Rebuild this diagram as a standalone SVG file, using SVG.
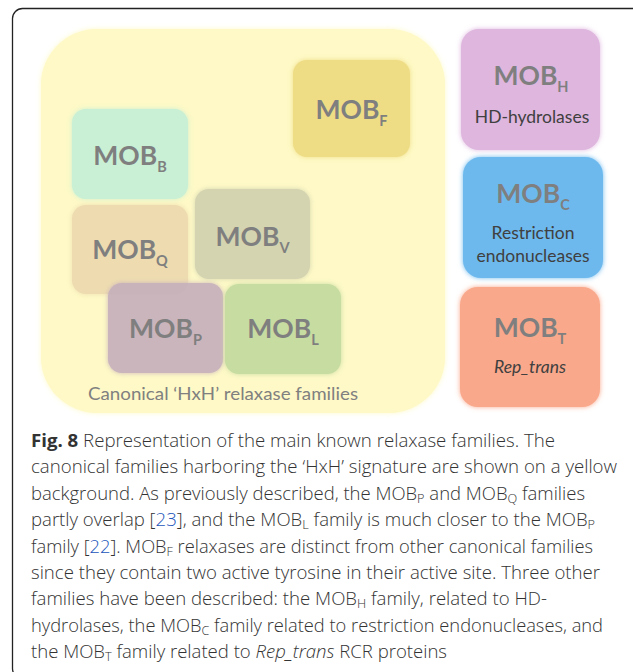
<svg xmlns="http://www.w3.org/2000/svg" width="633" height="672" viewBox="0 0 633 672">
<defs>
<style>
.box{stroke:none}
.mob{font-family:Lato,"Open Sans",sans-serif;font-weight:bold;font-size:26.5px;fill:#7f7f7f;text-anchor:middle}
.sub{font-size:14.5px}
.desc{font-family:Lato,"Open Sans",sans-serif;font-size:17.5px;fill:#404040;text-anchor:middle}
.cap{font-family:"Open Sans","Noto Sans",sans-serif;font-size:17.5px;font-weight:300;fill:#333333}
.cs{font-size:12px}
.ref{fill:#2255bb}
</style>
<filter id="glow" x="-10%" y="-10%" width="120%" height="120%">
<feGaussianBlur in="SourceGraphic" stdDeviation="2.5" result="b"/>
<feMerge><feMergeNode in="b"/><feMergeNode in="SourceGraphic"/></feMerge>
</filter>
</defs>
<rect x="12.5" y="8.5" width="630" height="670" rx="10" fill="#ffffff" stroke="#222" stroke-width="1.3"/>

<g id="canonical">
<rect x="41" y="29" width="404" height="384" rx="56" fill="#fef9c6" filter="url(#glow)"/>
<text x="223" y="400" font-family="Lato,'Open Sans',sans-serif" font-size="18" fill="#808080" text-anchor="middle" textLength="270" lengthAdjust="spacingAndGlyphs">Canonical ‘HxH’ relaxase families</text>
</g>

<g id="mobF">
<rect class="box" x="293" y="60" width="117" height="97" rx="14" fill="#efdd86" filter="url(#glow)"/>
<text class="mob" x="351.5" y="119">MOB<tspan class="sub" dy="7">F</tspan></text>
</g>
<g id="mobB">
<rect class="box" x="72" y="109" width="116" height="90" rx="14" fill="#c9f0d4" filter="url(#glow)"/>
<text class="mob" x="130" y="165">MOB<tspan class="sub" dy="7">B</tspan></text>
</g>
<g id="mobQ">
<rect class="box" x="72" y="205" width="116" height="89" rx="14" fill="#eedcb0" filter="url(#glow)"/>
<text class="mob" x="130" y="259">MOB<tspan class="sub" dy="7">Q</tspan></text>
</g>
<g id="mobV">
<rect class="box" x="195" y="189" width="115" height="90" rx="14" fill="#d4d4b1" filter="url(#glow)"/>
<text class="mob" x="252.5" y="246">MOB<tspan class="sub" dy="7">V</tspan></text>
</g>
<g id="mobP">
<rect class="box" x="108" y="283" width="115" height="90" rx="14" fill="#c6b0bc" opacity="0.92" filter="url(#glow)"/>
<text class="mob" x="165.5" y="338">MOB<tspan class="sub" dy="7">P</tspan></text>
</g>
<g id="mobL">
<rect class="box" x="225" y="284" width="116" height="90" rx="14" fill="#c7dca1" filter="url(#glow)"/>
<text class="mob" x="283" y="338">MOB<tspan class="sub" dy="7">L</tspan></text>
</g>

<g id="mobH">
<rect class="box" x="461" y="29" width="139" height="121" rx="18" fill="#deb6de" filter="url(#glow)"/>
<text class="mob" x="531" y="85">MOB<tspan class="sub" dy="7">H</tspan></text>
<text class="desc" x="532" y="123">HD-hydrolases</text>
</g>
<g id="mobC">
<rect class="box" x="463" y="157" width="140" height="121" rx="18" fill="#6db9ee" filter="url(#glow)"/>
<text class="mob" x="533" y="203">MOB<tspan class="sub" dy="7">C</tspan></text>
<text class="desc" x="533" y="239">Restriction</text>
<text class="desc" x="533" y="262">endonucleases</text>
</g>
<g id="mobT">
<rect class="box" x="460" y="287" width="140" height="120" rx="18" fill="#f9a88b" filter="url(#glow)"/>
<text class="mob" x="530" y="337">MOB<tspan class="sub" dy="7">T</tspan></text>
<text class="desc" x="530" y="373" font-style="italic">Rep_trans</text>
</g>

<g id="connectors"></g>

<g id="caption" class="cap">
<text class="cap" x="31" y="447" textLength="524" lengthAdjust="spacingAndGlyphs"><tspan font-weight="bold">Fig. 8</tspan> Representation of the main known relaxase families. The</text>
<text class="cap" x="31" y="473.4" textLength="586" lengthAdjust="spacingAndGlyphs">canonical families harboring the ‘HxH’ signature are shown on a yellow</text>
<text class="cap" x="31" y="499.8" textLength="554" lengthAdjust="spacingAndGlyphs">background. As previously described, the MOB<tspan class="cs" dy="3">P</tspan><tspan dy="-3"> and MOB</tspan><tspan class="cs" dy="3">Q</tspan><tspan dy="-3"> families</tspan></text>
<text class="cap" x="31" y="526.2" textLength="564" lengthAdjust="spacingAndGlyphs">partly overlap [<tspan class="ref">23</tspan>], and the MOB<tspan class="cs" dy="3">L</tspan><tspan dy="-3"> family is much closer to the MOB</tspan><tspan class="cs" dy="3">P</tspan></text>
<text class="cap" x="31" y="552.6" textLength="562" lengthAdjust="spacingAndGlyphs">family [<tspan class="ref">22</tspan>]. MOB<tspan class="cs" dy="3">F</tspan><tspan dy="-3"> relaxases are distinct from other canonical families</tspan></text>
<text class="cap" x="31" y="579" textLength="569" lengthAdjust="spacingAndGlyphs">since they contain two active tyrosine in their active site. Three other</text>
<text class="cap" x="31" y="605.4" textLength="516" lengthAdjust="spacingAndGlyphs">families have been described: the MOB<tspan class="cs" dy="3">H</tspan><tspan dy="-3"> family, related to HD-</tspan></text>
<text class="cap" x="31" y="631.8" textLength="572" lengthAdjust="spacingAndGlyphs">hydrolases, the MOB<tspan class="cs" dy="3">C</tspan><tspan dy="-3"> family related to restriction endonucleases, and</tspan></text>
<text class="cap" x="31" y="658.2" textLength="416" lengthAdjust="spacingAndGlyphs">the MOB<tspan class="cs" dy="3">T</tspan><tspan dy="-3"> family related to </tspan><tspan font-style="italic">Rep_trans</tspan> RCR proteins</text>
</g>
</svg>
